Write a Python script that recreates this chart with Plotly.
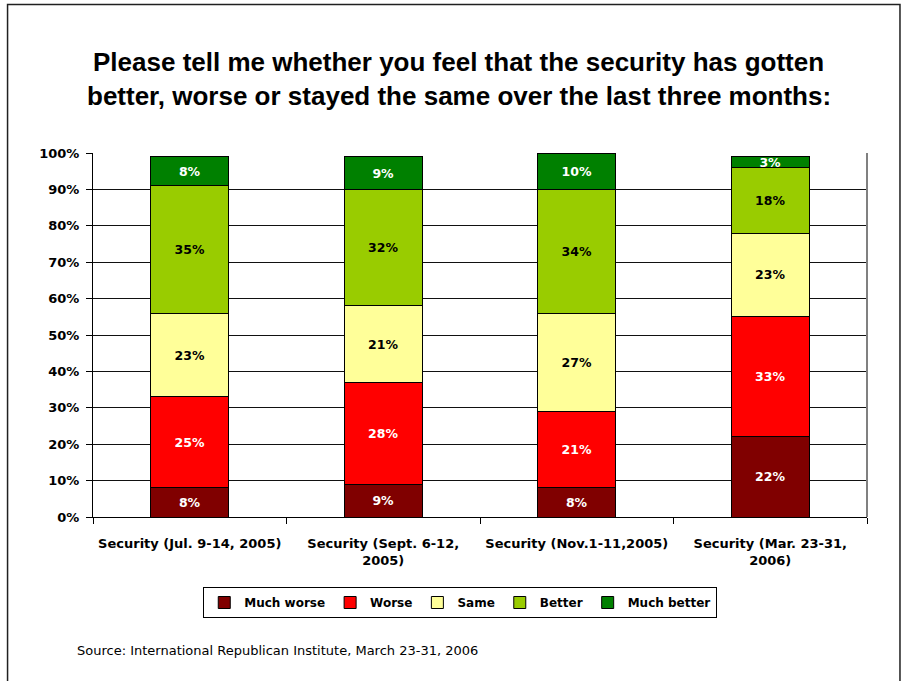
import plotly.graph_objects as go

categories = ["Security (Jul. 9-14, 2005)", "Security (Sept. 6-12,<br>2005)",
              "Security (Nov.1-11,2005)", "Security (Mar. 23-31,<br>2006)"]
series_names = ["Much worse", "Worse", "Same", "Better", "Much better"]
much_worse = [8, 9, 8, 22]
worse = [25, 28, 21, 33]
same = [23, 21, 27, 23]
better = [35, 32, 34, 18]
much_better = [8, 9, 10, 3]
series_values = [much_worse, worse, same, better, much_better]
colors = ["#800000", "#FF0000", "#FFFF99", "#99CC00", "#008000"]
text_colors = ["white", "white", "black", "black", "white"]
y_ticks = [0, 10, 20, 30, 40, 50, 60, 70, 80, 90, 100]
y_tick_labels = [f"{v}%" for v in y_ticks]
title_lines = ["Please tell me whether you feel that the security has gotten",
               "better, worse or stayed the same over the last three months:"]
source_text = "Source: International Republican Institute, March 23-31, 2006"

FONT = "DejaVu Sans, Liberation Sans, Arial, sans-serif"
TITLE_FONT = "Liberation Sans, Arial, sans-serif"

# plot area in pixels (for converting page positions to paper coordinates)
PL, PR, PT, PB = 93, 867.5, 153, 517
PW, PH = PR - PL, PB - PT


def px(x):
    return (x - PL) / PW


def py(y):
    return (PB - y) / PH


fig = go.Figure()
for name, vals, col, tc in zip(series_names, series_values, colors, text_colors):
    fig.add_trace(go.Bar(
        name=f"<b>{name}</b>", x=categories, y=vals,
        marker=dict(color=col, line=dict(color="black", width=1)),
        text=[f"<b>{v}%</b>" for v in vals], textposition="inside",
        insidetextanchor="middle", textangle=0,
        textfont=dict(color=tc, size=12.5, family=FONT),
        width=0.405,
    ))

fig.update_layout(
    barmode="stack",
    width=902, height=681,
    margin=dict(l=PL, r=902 - PR, t=PT, b=681 - PB),
    paper_bgcolor="white", plot_bgcolor="white",
    font=dict(family=FONT, color="black"),
    uniformtext=dict(minsize=8, mode="show"),
    showlegend=True,
    legend=dict(
        orientation="h", x=px(460.5), xanchor="center", y=py(587), yanchor="top",
        bordercolor="black", borderwidth=1,
        font=dict(size=12, family=FONT, color="black"),
        traceorder="normal", itemwidth=30, tracegroupgap=0,
    ),
    xaxis=dict(
        type="category", tickson="boundaries", ticks="outside", ticklen=6,
        tickcolor="black", showline=True, linecolor="black", linewidth=1,
        showgrid=False, ticklabelstandoff=14,
        tickvals=categories, ticktext=[f"<b>{c}</b>" for c in categories],
        tickfont=dict(size=13, family=FONT, color="black"),
    ),
    yaxis=dict(
        range=[0, 100], tickvals=y_ticks, ticktext=[f"<b>{t}</b>" for t in y_tick_labels],
        ticks="outside", ticklen=6, tickcolor="black", ticklabelstandoff=4,
        showline=True, linecolor="black", linewidth=1,
        showgrid=True, gridcolor="#111111", gridwidth=1,
        tickfont=dict(size=13, family=FONT, color="black"),
        zeroline=False,
    ),
)

# plot-area right border (gray)
fig.add_shape(type="line", xref="paper", yref="paper", x0=1, x1=1, y0=0, y1=1,
              line=dict(color="#808080", width=2), layer="above")
# outer slide border
fig.add_shape(type="rect", xref="paper", yref="paper",
              x0=px(7.5), x1=px(900.5), y0=py(700), y1=py(4.5),
              line=dict(color="#202020", width=1.5), fillcolor="rgba(0,0,0,0)", layer="below")

for line_text, yc in zip(title_lines, [62, 96]):
    fig.add_annotation(
        text=f"<b>{line_text}</b>", xref="paper", yref="paper",
        x=px(459), y=py(yc), xanchor="center", yanchor="middle", showarrow=False,
        font=dict(size=26, family=TITLE_FONT, color="black"),
    )

fig.add_annotation(
    text=source_text,
    xref="paper", yref="paper", x=px(75), y=py(650),
    xanchor="left", yanchor="middle", showarrow=False,
    font=dict(size=13, family=FONT, color="black"),
)

fig.write_html("out.html", post_script="document.body.style.margin='0';",
               config={"displayModeBar": False})
